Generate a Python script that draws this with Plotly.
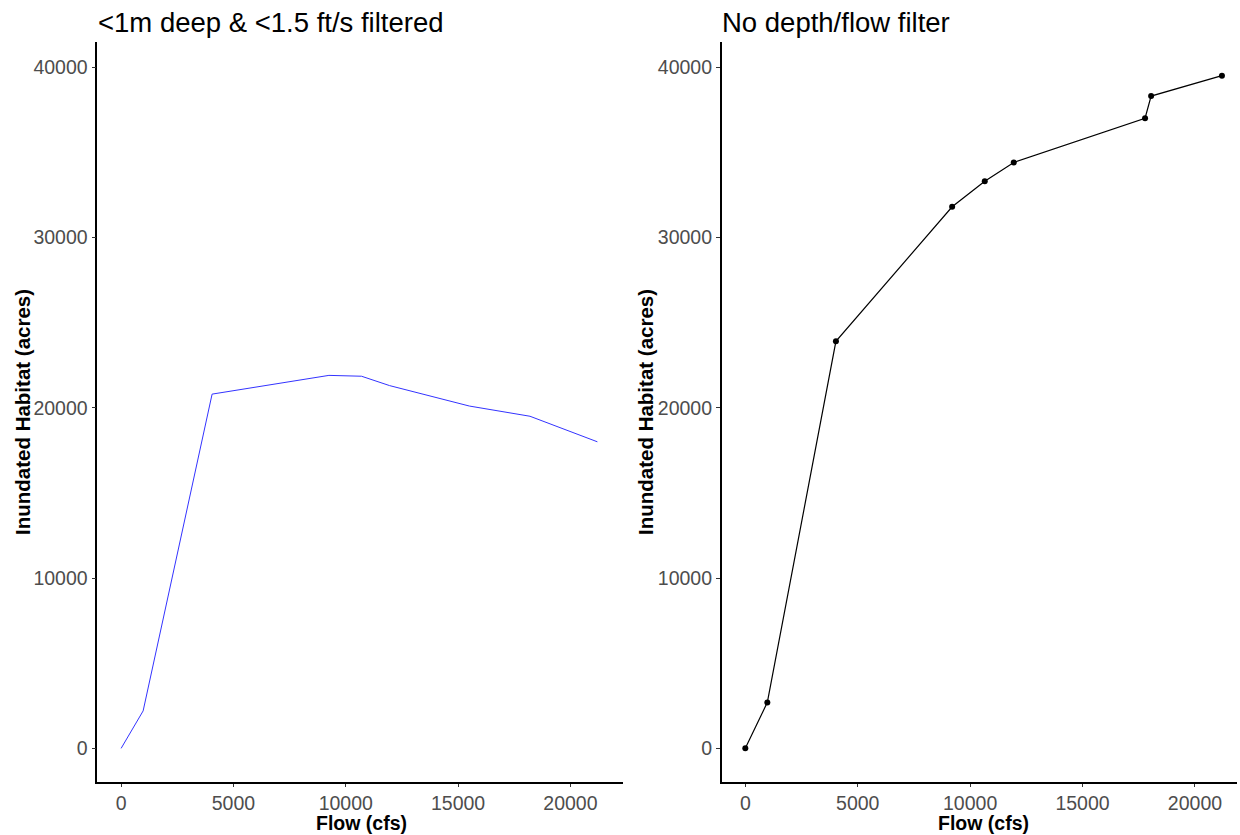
import plotly.graph_objects as go

# Left panel: filtered (<1m deep & <1.5 ft/s)
flow_filtered = [0, 980, 4050, 9250, 10700, 11950, 15500, 18200, 21200]
habitat_filtered = [0, 2200, 20800, 21900, 21850, 21300, 20100, 19500, 18000]

# Right panel: no depth/flow filter
flow_all = [0, 980, 4030, 9200, 10650, 11940, 17780, 18050, 21200]
habitat_all = [0, 2700, 23900, 31800, 33300, 34400, 37000, 38300, 39500]

x_ticks = [0, 5000, 10000, 15000, 20000]
x_labels = ["0", "5000", "10000", "15000", "20000"]
y_ticks = [0, 10000, 20000, 30000, 40000]
y_labels = ["0", "10000", "20000", "30000", "40000"]

W, H = 1240, 835
FONT = "Liberation Sans, Arial, sans-serif"

fig = go.Figure()
fig.add_trace(go.Scatter(x=flow_filtered, y=habitat_filtered, mode="lines",
                         line=dict(color="#3333FF", width=1),
                         xaxis="x", yaxis="y", showlegend=False))
fig.add_trace(go.Scatter(x=flow_all, y=habitat_all, mode="lines+markers",
                         line=dict(color="black", width=1.2),
                         marker=dict(color="black", size=6),
                         xaxis="x2", yaxis="y2", showlegend=False))

ydom = [(H - 782) / H, (H - 42) / H]
axis_common = dict(
    showgrid=False, zeroline=False, showline=True, linecolor="black", linewidth=1.5,
    tickwidth=1, tickcolor="#333333", ticks="outside",
    tickfont=dict(family=FONT, size=19.5, color="#4D4D4D"),
)

fig.update_layout(
    width=W, height=H,
    margin=dict(l=0, r=0, t=0, b=0),
    paper_bgcolor="white", plot_bgcolor="white",
    xaxis=dict(domain=[97.3 / W, 623 / W], range=[-1060, 22340], ticklen=3,
               tickvals=x_ticks, ticktext=x_labels, anchor="y", **axis_common),
    yaxis=dict(domain=ydom, range=[-1975, 41475], tickvals=y_ticks, ticktext=y_labels,
               ticklen=4, anchor="x", **axis_common),
    xaxis2=dict(domain=[721.7 / W, 1237 / W], range=[-1050, 21870], ticklen=3,
                tickvals=x_ticks, ticktext=x_labels, anchor="y2", **axis_common),
    yaxis2=dict(domain=ydom, range=[-1975, 41475], tickvals=y_ticks, ticktext=y_labels,
                ticklen=4, anchor="x2", **axis_common),
)

def px_x(p):
    return p / W

def px_y(p):
    return (H - p) / H

annotations = [
    dict(text="<1m deep & <1.5 ft/s filtered", x=px_x(96), y=px_y(22),
         xanchor="left", yanchor="middle", font=dict(family=FONT, size=27.5, color="black")),
    dict(text="No depth/flow filter", x=px_x(720), y=px_y(22),
         xanchor="left", yanchor="middle", font=dict(family=FONT, size=27.5, color="black")),
    dict(text="<b>Flow (cfs)</b>", x=px_x(361), y=px_y(823),
         xanchor="center", yanchor="middle", borderpad=0,
         font=dict(family=FONT, size=19.5, color="black")),
    dict(text="<b>Flow (cfs)</b>", x=px_x(983), y=px_y(823),
         xanchor="center", yanchor="middle", borderpad=0,
         font=dict(family=FONT, size=19.5, color="black")),
    dict(text="<b>Inundated Habitat (acres)</b>", x=px_x(22), y=px_y(412),
         xanchor="center", yanchor="middle", textangle=-90,
         font=dict(family=FONT, size=20.5, color="black")),
    dict(text="<b>Inundated Habitat (acres)</b>", x=px_x(645), y=px_y(412),
         xanchor="center", yanchor="middle", textangle=-90,
         font=dict(family=FONT, size=20.5, color="black")),
]
for a in annotations:
    a.update(xref="paper", yref="paper", showarrow=False)
fig.update_layout(annotations=annotations)

fig.write_html(
    "out.html",
    config={"displayModeBar": False},
    post_script="document.body.style.margin='0';document.body.style.overflow='hidden';",
)
